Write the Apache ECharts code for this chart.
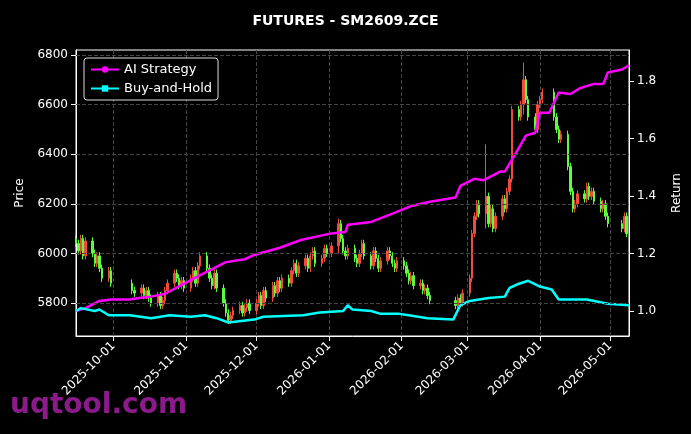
<!DOCTYPE html>
<html><head><meta charset="utf-8">
<script src="https://cdn.jsdelivr.net/npm/echarts@6/dist/echarts.min.js"></script>
<style>html,body{margin:0;background:#000}#c{width:691px;height:434px}</style>
</head><body><div id="c"></div>
<script>
// trading day closes by period
const periods = [
  ['2025-09-15','2025-09-30'],['2025-10-09','2025-10-31'],['2025-11-03','2025-11-28'],
  ['2025-12-01','2025-12-31'],['2026-01-02','2026-01-30'],['2026-02-02','2026-02-13'],
  ['2026-02-24','2026-02-27'],['2026-03-02','2026-03-31'],['2026-04-01','2026-04-30'],['2026-05-06','2026-05-08']
];
const holidays = ['2026-04-06','2026-04-03'];
const closes = [
 6040,6010,6060,5990,6050,6000,5960,5990,5940,5900,5930,5880,
 5850,5840,5860,5830,5850,5820,5800,5830,5790,5810,5850,5880,5920,5900,5870,5890,5860,
 5900,5930,5880,5950,5990,5940,5900,5870,5920,5860,5800,5760,5730,5750,5770,5790,5760,5780,5800,5770,
 5800,5830,5790,5850,5820,5870,5840,5890,5860,5900,5880,5930,5960,5920,5950,5980,5940,5990,6010,5960,5980,6020,6000,
 6030,6120,6060,6010,5990,6020,5980,5960,6000,6040,5990,5950,6010,5980,5940,5970,6010,5990,5960,5940,5970,
 5950,5920,5890,5910,5870,5880,5850,5860,5830,5810,
 5790,5820,5800,5840,
 5900,6080,6150,6200,6160,6230,6120,6180,6100,6150,6220,6180,6250,6300,6580,6550,6600,6700,6620,6550,6500,6600,
 6620,6650,6550,6500,6460,6480,6350,6250,6180,6200,6240,6220,6270,6230,6250,6210,6180,6200,6150,6120,6100,
 6150,6080,6050
];
const wicks = {'2026-03-09':[6100,6440],'2026-03-25':[6560,6770],'2026-01-05':[6000,6140]};
const aiDates = ['2025-09-15','2025-09-19','2025-09-25','2025-09-30','2025-10-08','2025-10-12','2025-10-17','2025-10-23','2025-10-30','2025-11-07','2025-11-18','2025-11-26','2025-11-30','2025-12-11','2025-12-20','2026-01-02','2026-01-08','2026-01-09','2026-01-19','2026-01-27','2026-02-05','2026-02-13','2026-02-24','2026-02-26','2026-03-04','2026-03-08','2026-03-15','2026-03-17','2026-03-21','2026-03-26','2026-03-30','2026-04-01','2026-04-05','2026-04-09','2026-04-14','2026-04-18','2026-04-24','2026-04-28','2026-04-30','2026-05-06','2026-05-09'];
const aiVals = [1.0,1.01,1.035,1.04,1.04,1.045,1.05,1.06,1.09,1.125,1.17,1.18,1.195,1.22,1.247,1.27,1.275,1.30,1.31,1.335,1.365,1.38,1.395,1.435,1.46,1.455,1.485,1.485,1.54,1.61,1.62,1.69,1.69,1.76,1.755,1.775,1.79,1.79,1.83,1.84,1.855];
const bhDates = ['2025-09-15','2025-09-17','2025-09-23','2025-09-25','2025-09-29','2025-10-08','2025-10-17','2025-10-25','2025-11-03','2025-11-09','2025-11-14','2025-11-19','2025-11-30','2025-12-04','2025-12-21','2025-12-28','2026-01-07','2026-01-09','2026-01-11','2026-01-19','2026-01-23','2026-01-31','2026-02-04','2026-02-12','2026-02-23','2026-02-26','2026-03-02','2026-03-06','2026-03-10','2026-03-17','2026-03-19','2026-03-23','2026-03-27','2026-04-01','2026-04-06','2026-04-09','2026-04-15','2026-04-21','2026-04-30','2026-05-09'];
const bhVals = [1.0,1.01,1.0,1.005,0.985,0.985,0.975,0.985,0.98,0.985,0.975,0.96,0.97,0.98,0.985,0.995,1.0,1.02,1.005,1.0,0.99,0.99,0.985,0.975,0.97,1.02,1.035,1.04,1.045,1.05,1.08,1.095,1.105,1.085,1.075,1.04,1.04,1.04,1.025,1.02];
const leftTicks = [5800,6000,6200,6400,6600,6800];
const rightTicks = [1.0,1.2,1.4,1.6,1.8];

const dates = [];
const day = 86400000;
periods.forEach(([a,b])=>{
  for(let t=Date.parse(a+'T00:00:00Z');t<=Date.parse(b+'T00:00:00Z');t+=day){
    const d=new Date(t), wd=d.getUTCDay(), s=d.toISOString().slice(0,10);
    if(wd>0&&wd<6&&!holidays.includes(s)) dates.push(s);
  }
});
const candles = [];
for(let i=0;i<Math.min(dates.length,closes.length);i++){
  const c=closes[i], o=i?closes[i-1]:c+20;
  const w=wicks[dates[i]]||[Math.min(o,c)-15,Math.max(o,c)+15];
  candles.push([dates[i],o,c,w[0],w[1]]);
}
const ch=echarts.init(document.getElementById('c'));
const txt={color:'#fff',fontFamily:'DejaVu Sans',fontSize:12};
ch.setOption({
  backgroundColor:'#000',animation:false,
  title:{text:'FUTURES - SM2609.ZCE',left:'center',top:9,textStyle:{color:'#fff',fontSize:14,fontWeight:'bold',fontFamily:'DejaVu Sans'}},
  graphic:[{type:'text',left:10,top:392,style:{text:'uqtool.com',fill:'#8b1a8b',font:'bold 28px DejaVu Sans'}}],
  legend:{left:84,top:58,orient:'vertical',itemGap:6,backgroundColor:'#000',borderColor:'#ddd',borderWidth:1,borderRadius:3,padding:[5,6],
    textStyle:{color:'#fff',fontSize:13,fontFamily:'DejaVu Sans'},itemWidth:28,itemHeight:8,data:['AI Strategy','Buy-and-Hold']},
  grid:{left:76,right:61,top:50,bottom:98,show:true,borderColor:'#fff',borderWidth:1},
  xAxis:{type:'time',min:'2025-09-15',max:'2026-05-09',minInterval:28*day,maxInterval:31*day,
    axisLine:{lineStyle:{color:'#fff'}},axisTick:{lineStyle:{color:'#fff'}},
    axisLabel:{...txt,rotate:45,formatter:'{yyyy}-{MM}-{dd}',hideOverlap:false,showMinLabel:false,showMaxLabel:false},
    splitLine:{show:true,lineStyle:{color:'#444',type:'dashed'}}},
  yAxis:[
    {type:'value',min:5667,max:6820,name:'Price',nameLocation:'middle',nameGap:50,nameTextStyle:txt,
     axisLine:{show:true,lineStyle:{color:'#fff'}},axisTick:{show:true,customValues:leftTicks,lineStyle:{color:'#fff'}},
     axisLabel:{...txt,customValues:leftTicks,formatter:v=>String(v)},splitLine:{show:false}},
    {type:'value',min:0.913,max:1.908,name:'Return',nameLocation:'middle',nameGap:42,nameRotate:90,nameTextStyle:txt,
     axisLine:{show:true,lineStyle:{color:'#fff'}},axisTick:{show:true,customValues:rightTicks,lineStyle:{color:'#fff'}},
     axisLabel:{...txt,customValues:rightTicks,formatter:v=>v.toFixed(1)},splitLine:{show:false}}
  ],
  series:[
    {type:'candlestick',yAxisIndex:0,barMaxWidth:2,data:candles.map(d=>[d[0],d[1],d[2],d[3],d[4]]),
     itemStyle:{color:'#f04b3c',color0:'#5aff3c',borderColor:'#f04b3c',borderColor0:'#5aff3c',borderWidth:1},
     markLine:{silent:true,symbol:'none',label:{show:false},lineStyle:{color:'#444',type:'dashed',width:1},data:leftTicks.map(v=>({yAxis:v}))}},
    {name:'AI Strategy',type:'line',yAxisIndex:1,data:aiDates.map((d,i)=>[d,aiVals[i]]),showSymbol:false,symbol:'circle',symbolSize:5,
     lineStyle:{color:'#ff00ff',width:2.5},itemStyle:{color:'#ff00ff'}},
    {name:'Buy-and-Hold',type:'line',yAxisIndex:1,data:bhDates.map((d,i)=>[d,bhVals[i]]),showSymbol:false,symbol:'rect',symbolSize:5,
     lineStyle:{color:'#00ffff',width:2.5},itemStyle:{color:'#00ffff'}}
  ]
});
</script></body></html>
